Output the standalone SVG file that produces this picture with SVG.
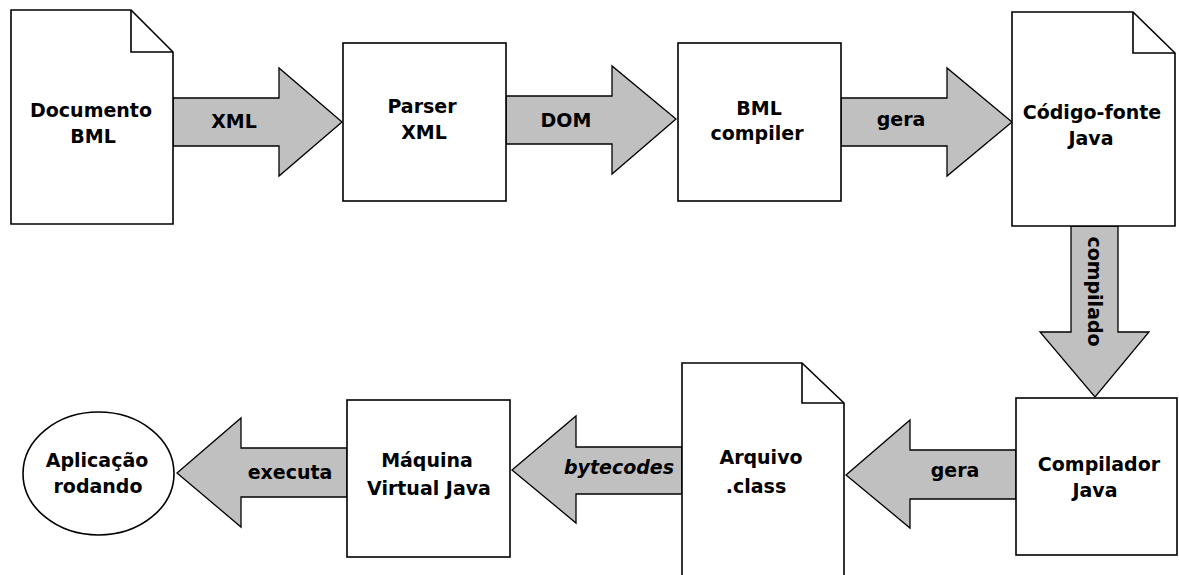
<svg xmlns="http://www.w3.org/2000/svg" width="1179" height="575" viewBox="0 0 1179 575">
<style>
.shape{fill:#ffffff;stroke:#000000;stroke-width:1.6}
.fold{fill:none;stroke:#000000;stroke-width:1.6}
.arrow{fill:#c0c0c0;stroke:#000000;stroke-width:1.3;stroke-linejoin:miter}
text{font-family:"DejaVu Sans","Verdana",sans-serif;font-weight:bold;font-size:19px;fill:#000000;text-anchor:middle}
.it{font-style:italic}
</style>
<rect x="0" y="0" width="1179" height="575" fill="#ffffff"/>
<g id="connectors">
<g id="c-xml"><path class="arrow" d="M173,98 L279,98 L279,68 L342,122 L279,176 L279,146 L173,146 Z"/><text x="234" y="128">XML</text></g>
<g id="c-dom"><path class="arrow" d="M506,96 L612,96 L612,66 L676,119 L612,174 L612,144 L506,144 Z"/><text x="566" y="127">DOM</text></g>
<g id="c-gera1"><path class="arrow" d="M841,98 L947,98 L947,68 L1012,122 L947,176 L947,146 L841,146 Z"/><text x="901" y="126">gera</text></g>
<g id="c-compilado"><path class="arrow" d="M1071,226 L1071,332 L1040,332 L1095,397 L1149,332 L1118,332 L1118,226 Z"/><text transform="translate(1088,291.5) rotate(90)" x="0" y="0">compilado</text></g>
<g id="c-gera2"><path class="arrow" d="M1016,450 L910,450 L910,420 L846,475 L910,528 L910,499 L1016,499 Z"/><text x="955" y="477">gera</text></g>
<g id="c-bytecodes"><path class="arrow" d="M682,447 L576,447 L576,416 L512,470 L576,523 L576,494 L682,494 Z"/><text class="it" x="619" y="474">bytecodes</text></g>
<g id="c-executa"><path class="arrow" d="M347,448 L241,448 L241,418 L177,473 L241,527 L241,497 L347,497 Z"/><text x="290" y="479">executa</text></g>
</g>
<g id="n-documento">
<path class="shape" d="M11,10 L131,10 L173,52 L173,224 L11,224 Z"/>
<path class="fold" d="M131,10 L131,52 L173,52"/>
<text x="91" y="117">Documento</text>
<text x="93" y="143">BML</text>
</g>
<g id="n-parser">
<rect class="shape" x="343" y="43" width="163" height="158"/>
<text x="422" y="113">Parser</text>
<text x="424" y="139">XML</text>
</g>
<g id="n-bmlcompiler">
<rect class="shape" x="678" y="43" width="163" height="158"/>
<text x="759" y="115">BML</text>
<text x="757" y="140">compiler</text>
</g>
<g id="n-codigo">
<path class="shape" d="M1012,12 L1133,12 L1175,53 L1175,226 L1012,226 Z"/>
<path class="fold" d="M1133,12 L1133,53 L1175,53"/>
<text x="1092" y="119">Código-fonte</text>
<text x="1091" y="145">Java</text>
</g>
<g id="n-compilador">
<rect class="shape" x="1016" y="398" width="161" height="157"/>
<text x="1099" y="471">Compilador</text>
<text x="1095" y="497">Java</text>
</g>
<g id="n-arquivo">
<path class="shape" d="M682,363 L802,363 L844,403 L844,580 L682,580 Z"/>
<path class="fold" d="M802,363 L802,403 L844,403"/>
<text x="761" y="464">Arquivo</text>
<text x="756" y="493">.class</text>
</g>
<g id="n-maquina">
<rect class="shape" x="347" y="400" width="163" height="157"/>
<text x="427" y="467">Máquina</text>
<text x="429" y="495">Virtual Java</text>
</g>
<g id="n-aplicacao">
<ellipse class="shape" cx="98.5" cy="473.5" rx="75.5" ry="61.5"/>
<text x="97" y="467">Aplicação</text>
<text x="98" y="493">rodando</text>
</g>
</svg>
